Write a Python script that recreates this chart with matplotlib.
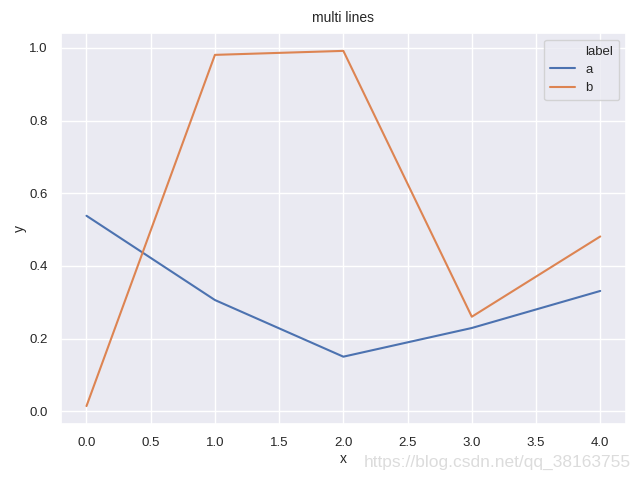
import numpy as np
import pandas as pd
import seaborn as sns
import matplotlib.pyplot as plt
from matplotlib.lines import Line2D

x_vals = [0, 1, 2, 3, 4]
a_vals = [0.538, 0.306, 0.150, 0.229, 0.331]
b_vals = [0.014, 0.981, 0.992, 0.260, 0.481]
labels = ["a", "b"]

df = pd.DataFrame({
    "x": x_vals * 2,
    "y": a_vals + b_vals,
    "label": ["a"] * len(a_vals) + ["b"] * len(b_vals),
})

sns.set_theme(rc={
    "axes.labelsize": 10,
    "xtick.labelsize": 9.5,
    "ytick.labelsize": 9.5,
    "legend.fontsize": 9.5,
    "axes.titlesize": 10,
})
plt.rcParams["font.family"] = ["Liberation Sans", "DejaVu Sans"]

fig, ax = plt.subplots(figsize=(6.4, 4.8), dpi=100)
sns.lineplot(data=df, x="x", y="y", hue="label", ax=ax, legend=False)

# old-style seaborn legend: hue title shown as a blank entry
colors = sns.color_palette()[:2]
handles = [Line2D([], [], linestyle="none")]
handles += [Line2D([], [], color=c, linewidth=1.5) for c in colors]
ax.legend(handles, ["label"] + labels, loc="upper right",
          handlelength=1.9, borderpad=0.45, labelspacing=0.45)

ax.set_title("multi lines", pad=8)
ax.set_xlabel("x", labelpad=2)
ax.set_ylabel("y", labelpad=1.5)

fig.subplots_adjust(left=0.095, right=0.978, top=0.931, bottom=0.117)
fig.text(0.985, 0.037, "https://blog.csdn.net/qq_38163755", ha="right",
         va="center", fontsize=12.5, color="#dcdcdc")
fig.savefig("out.png", dpi=100)
plt.close(fig)
